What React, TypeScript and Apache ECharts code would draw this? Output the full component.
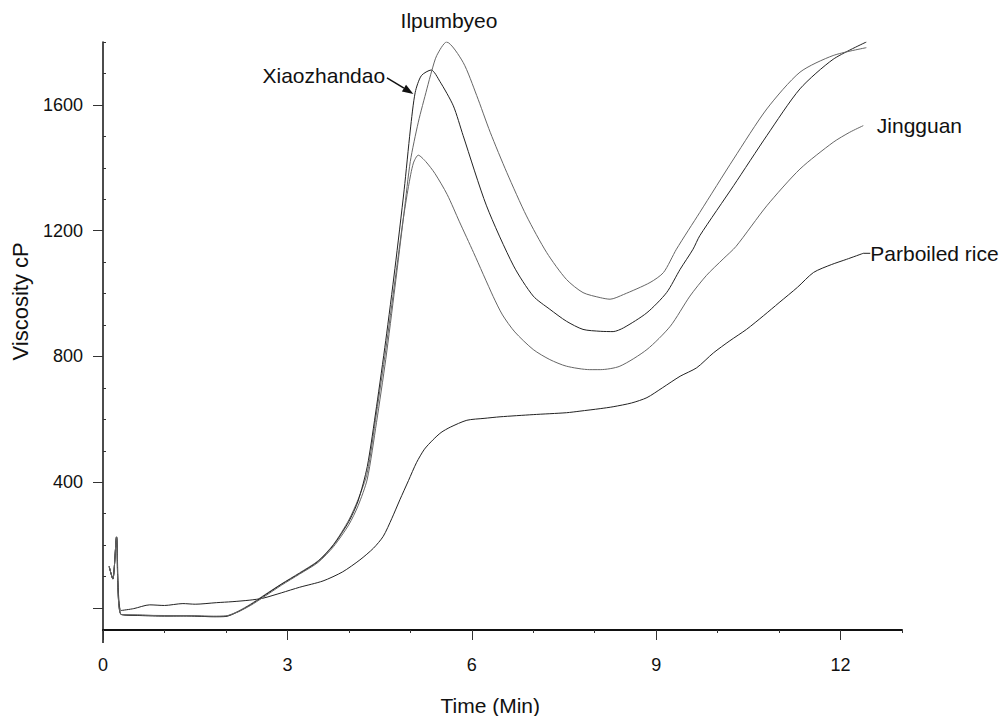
import React, { useEffect, useRef } from "react";
import * as echarts from "echarts";

const xLabelValues = [0, 3, 6, 9, 12];
const xMinorTicks = [1, 2, 4, 5, 7, 8, 10, 11, 13];
const yLabelValues = [400, 800, 1200, 1600];
const yMajorTicks = [0, 400, 800, 1200, 1600];
const yMinorTicks = [100, 200, 300, 500, 600, 700, 900, 1000, 1100, 1300, 1400, 1500, 1700, 1800];

const startSpike: number[][] = [[0.1, 132], [0.16, 92], [0.22, 226], [0.29, -20]];

const xiaozhandao: number[][] = [
  ...startSpike,
  [0.6, -24], [1.0, -26], [1.4, -25], [1.8, -28], [2.0, -27], [2.2, -12], [2.4, 10], [2.6, 36],
  [2.9, 75], [3.2, 110], [3.5, 148], [3.75, 200], [4.0, 275], [4.15, 340], [4.3, 450],
  [4.45, 640], [4.6, 850], [4.75, 1080], [4.9, 1330], [5.0, 1520], [5.08, 1640], [5.18, 1693],
  [5.34, 1711], [5.48, 1675], [5.7, 1597], [5.86, 1502], [6.24, 1279], [6.68, 1088],
  [7.0, 992], [7.27, 950], [7.54, 912], [7.81, 886], [8.09, 880], [8.3, 879], [8.47, 891],
  [8.85, 939], [9.17, 1003], [9.39, 1077], [9.6, 1141], [9.71, 1184], [10.26, 1343],
  [10.8, 1502], [11.34, 1651], [11.88, 1745], [12.42, 1800],
];

const ilpumbyeo: number[][] = [
  ...startSpike,
  [0.6, -22], [1.0, -25], [1.4, -24], [1.8, -26], [2.0, -25], [2.2, -12], [2.4, 8], [2.6, 33],
  [2.9, 72], [3.2, 108], [3.5, 145], [3.75, 195], [4.0, 265], [4.15, 325], [4.3, 410],
  [4.45, 590], [4.6, 790], [4.75, 1020], [4.9, 1260], [5.0, 1420], [5.13, 1545], [5.27, 1651],
  [5.35, 1709], [5.43, 1757], [5.59, 1800], [5.86, 1735], [6.08, 1630], [6.3, 1513],
  [6.57, 1385], [6.89, 1247], [7.22, 1130], [7.54, 1045], [7.81, 1003], [8.09, 987],
  [8.25, 982], [8.47, 997], [8.9, 1035], [9.12, 1067], [9.33, 1141], [9.71, 1258],
  [10.26, 1428], [10.8, 1587], [11.34, 1704], [11.88, 1757], [12.42, 1782],
];

const jingguan: number[][] = [
  ...startSpike,
  [0.6, -23], [1.0, -24], [1.4, -26], [1.8, -27], [2.0, -26], [2.2, -10], [2.4, 12], [2.6, 38],
  [2.9, 76], [3.2, 112], [3.5, 150], [3.75, 202], [4.0, 280], [4.15, 345], [4.3, 430],
  [4.45, 620], [4.6, 820], [4.75, 1040], [4.88, 1230], [4.97, 1340], [5.05, 1415], [5.13, 1440],
  [5.25, 1420], [5.4, 1382], [5.6, 1315], [5.8, 1228], [6.03, 1130], [6.35, 990], [6.5, 932],
  [6.7, 878], [7.0, 822], [7.27, 790], [7.54, 769], [7.92, 758], [8.09, 758], [8.41, 769],
  [8.85, 822], [9.23, 896], [9.55, 992], [9.82, 1058], [10.09, 1110], [10.3, 1150],
  [10.8, 1279], [11.34, 1396], [11.88, 1481], [12.15, 1513], [12.37, 1534],
];

const parboiled: number[][] = [
  [0.1, 132], [0.16, 92], [0.22, 226], [0.29, -8], [0.5, -2], [0.76, 10], [1.0, 8], [1.3, 14],
  [1.5, 12], [1.85, 17], [2.1, 20], [2.39, 25], [2.6, 31], [2.9, 48], [3.2, 66], [3.58, 86],
  [3.9, 115], [4.18, 153], [4.4, 190], [4.56, 228], [4.7, 285], [4.83, 344], [4.97, 405],
  [5.1, 462], [5.23, 505], [5.37, 535], [5.5, 558], [5.65, 575], [5.92, 597], [6.2, 603],
  [6.46, 608], [7.0, 615], [7.54, 621], [7.76, 626], [8.09, 634], [8.3, 640], [8.6, 652],
  [8.85, 669], [9.1, 700], [9.39, 737], [9.66, 764], [9.93, 811], [10.2, 850], [10.47, 886],
  [10.75, 930], [11.0, 971], [11.3, 1020], [11.56, 1067], [11.85, 1092], [12.1, 1109],
  [12.37, 1128],
];

const FONT = "'Liberation Sans', Arial, sans-serif";

export default function App() {
  const ref = useRef<HTMLDivElement>(null);
  useEffect(() => {
    if (!ref.current) return;
    const chart = echarts.init(ref.current, undefined, { renderer: "svg" });
    const mkLine = (name: string, data: number[][], color: string) => ({
      name,
      type: "line",
      data,
      showSymbol: false,
      smooth: 0.25,
      lineStyle: { color, width: 1 },
      xAxisIndex: 0,
      yAxisIndex: 0,
    });
    const axisLine = { show: true, lineStyle: { color: "#111", width: 1.5 } };
    const plain = (v: number) => String(v);
    chart.setOption({
      animation: false,
      backgroundColor: "#fff",
      grid: { left: 103, right: 104, top: 42, bottom: 86 },
      xAxis: [
        {
          type: "value",
          min: 0,
          max: 13,
          axisLine: { show: true, onZero: false, lineStyle: { color: "#111", width: 2 } },
          splitLine: { show: false },
          axisTick: { show: true, customValues: xLabelValues, length: 10, lineStyle: { color: "#333" } },
          axisLabel: { customValues: xLabelValues, formatter: plain, fontSize: 18, color: "#111", fontFamily: FONT, margin: 26 },
        },
        {
          type: "value",
          min: 0,
          max: 13,
          position: "bottom",
          axisLine: { show: false, onZero: false },
          splitLine: { show: false },
          axisTick: { show: true, customValues: xMinorTicks, length: 3, lineStyle: { color: "#333" } },
          axisLabel: { show: false, customValues: xMinorTicks },
        },
      ],
      yAxis: [
        {
          type: "value",
          min: -70,
          max: 1800,
          axisLine: { ...axisLine, onZero: false },
          splitLine: { show: false },
          axisTick: { show: true, customValues: yMajorTicks, length: 10, lineStyle: { color: "#333" } },
          axisLabel: { customValues: yLabelValues, formatter: plain, fontSize: 18, color: "#111", fontFamily: FONT, margin: 20 },
        },
        {
          type: "value",
          min: -70,
          max: 1800,
          position: "left",
          axisLine: { show: false, onZero: false },
          splitLine: { show: false },
          axisTick: { show: true, inside: true, customValues: yMinorTicks, length: 3, lineStyle: { color: "#333" } },
          axisLabel: { show: false, customValues: yMinorTicks },
        },
      ],
      series: [
        mkLine("Parboiled rice", parboiled, "#222"),
        mkLine("Jingguan", jingguan, "#666"),
        mkLine("Xiaozhandao", xiaozhandao, "#222"),
        mkLine("Ilpumbyeo", ilpumbyeo, "#666"),
      ],
    });

    const px = (t: number, v: number) =>
      chart.convertToPixel({ xAxisIndex: 0, yAxisIndex: 0 }, [t, v]) as number[];

    const tipX = px(5.05, 1635);
    const startA = px(4.62, 1686);
    const dx = tipX[0] - startA[0];
    const dy = tipX[1] - startA[1];
    const len = Math.sqrt(dx * dx + dy * dy);
    const ux = dx / len;
    const uy = dy / len;
    const headL = 11;
    const headW = 4;
    const baseX = tipX[0] - ux * headL;
    const baseY = tipX[1] - uy * headL;
    const arrowHead = [
      [tipX[0], tipX[1]],
      [baseX - uy * headW, baseY + ux * headW],
      [baseX + uy * headW, baseY - ux * headW],
    ];

    const xiaoText = px(4.59, 1692);
    const ilpText = px(5.63, 1867);
    const jingText = px(12.59, 1533);
    const parEnd = parboiled[parboiled.length - 1];
    const parPt = px(parEnd[0], parEnd[1]);
    const textStyle = { fontSize: 21, fontFamily: FONT, fill: "#111" };
    const yMid = px(0, 975);
    const xMid = px(6.3, 0);
    const origin = px(0, -70);

    chart.setOption({
      graphic: [
        { type: "line", shape: { x1: origin[0], y1: origin[1], x2: origin[0], y2: origin[1] + 13 }, style: { stroke: "#111", lineWidth: 1.5 } },
        { type: "text", x: xiaoText[0], y: xiaoText[1], style: { ...textStyle, text: "Xiaozhandao", align: "right", verticalAlign: "middle" } },
        { type: "line", shape: { x1: startA[0], y1: startA[1], x2: baseX, y2: baseY }, style: { stroke: "#111", lineWidth: 1.5 } },
        { type: "polygon", shape: { points: arrowHead }, style: { fill: "#111" } },
        { type: "text", x: ilpText[0], y: ilpText[1], style: { ...textStyle, text: "Ilpumbyeo", align: "center", verticalAlign: "middle" } },
        { type: "text", x: jingText[0], y: jingText[1], style: { ...textStyle, text: "Jingguan", align: "left", verticalAlign: "middle" } },
        { type: "line", shape: { x1: parPt[0], y1: parPt[1], x2: parPt[0] + 7, y2: parPt[1] }, style: { stroke: "#222", lineWidth: 1 } },
        { type: "text", x: parPt[0] + 7, y: parPt[1], style: { ...textStyle, text: "Parboiled rice", align: "left", verticalAlign: "middle" } },
        { type: "text", x: 20, y: yMid[1], rotation: Math.PI / 2, style: { ...textStyle, fontSize: 22, text: "Viscosity cP", align: "center", verticalAlign: "middle" } },
        { type: "text", x: xMid[0], y: 705, style: { ...textStyle, text: "Time (Min)", align: "center", verticalAlign: "middle" } },
      ],
    });

    return () => chart.dispose();
  }, []);
  return (
    <div
      ref={ref}
      style={{ position: "fixed", left: 0, top: 0, width: 1006, height: 716 }}
    />
  );
}
